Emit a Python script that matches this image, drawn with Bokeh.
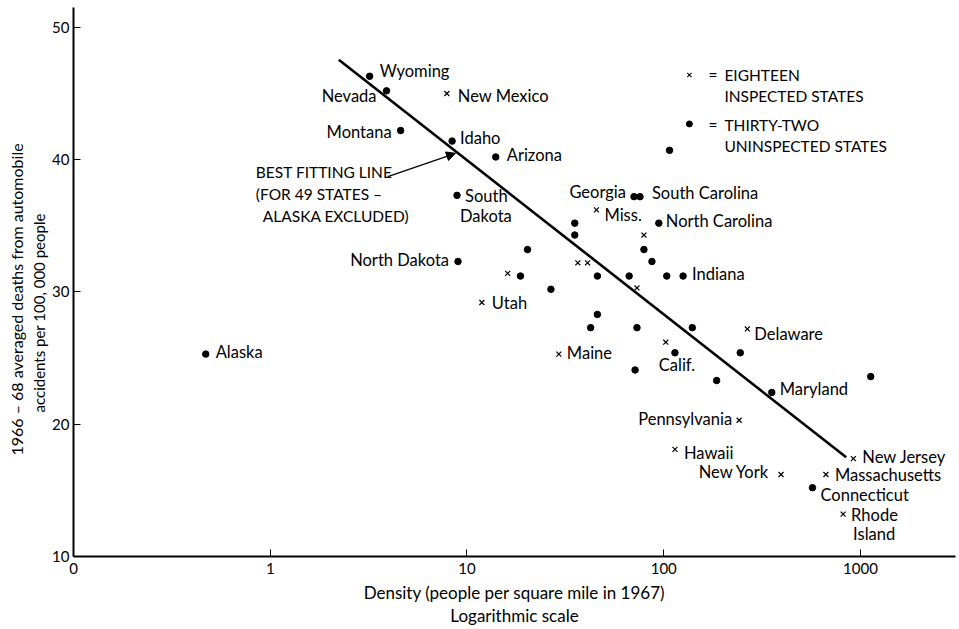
from bokeh.plotting import figure
from bokeh.models import (Range1d, FixedTicker, CustomJSTickFormatter, Label,
                          Arrow, NormalHead, Title)
from bokeh.embed import file_html
from bokeh.resources import INLINE

FONT = "Lato"
TXT = "16.5px"
CAPS = "15.5px"

# Thirty-two uninspected states (dots): density (people / sq mi, 1967), deaths per 100,000
dot_names = ["Wyoming", "Nevada", "Montana", "Idaho", "Arizona", "South Dakota", "",
             "Georgia", "South Carolina", "North Carolina", "", "", "", "", "",
             "North Dakota", "", "", "", "", "Indiana", "", "", "", "", "", "", "",
             "", "", "Maryland", "", "Connecticut", "Alaska"]
dot_density = [3.2, 3.9, 4.6, 8.4, 14.0, 8.9, 107,
               70.6, 75.7, 94.4, 35.3, 35.3, 20.3, 79.3, 87.1,
               9.0, 18.7, 46.0, 66.7, 103.6, 125.4, 26.7, 46.0, 42.5, 73.1, 139.7, 114.0, 244.9,
               71.5, 185.7, 354, 1127, 570, 0.47]
dot_deaths = [46.3, 45.2, 42.2, 41.4, 40.2, 37.3, 40.7,
              37.2, 37.2, 35.2, 35.2, 34.3, 33.2, 33.2, 32.3,
              32.3, 31.2, 31.2, 31.2, 31.2, 31.2, 30.2, 28.3, 27.3, 27.3, 27.3, 25.4, 25.4,
              24.1, 23.3, 22.4, 23.6, 15.2, 25.3]

# Eighteen inspected states (crosses)
x_names = ["New Mexico", "Miss.", "", "", "", "", "", "Utah", "Calif.", "Maine",
           "Delaware", "Pennsylvania", "Hawaii", "New York", "New Jersey",
           "Massachusetts", "Rhode Island"]
x_density = [7.9, 45.5, 79.3, 36.6, 41.0, 16.1, 73.1, 11.9, 102.4, 29.3,
             266, 241.6, 114, 394.7, 920, 667, 816]
x_deaths = [45.0, 36.2, 34.3, 32.2, 32.2, 31.4, 30.3, 29.2, 26.2, 25.3,
            27.2, 20.3, 18.1, 16.2, 17.4, 16.2, 13.2]

# Best fitting line (49 states, Alaska excluded)
fit_density = [2.23, 846]
fit_deaths = [47.55, 17.5]

x_ticks = [0.1, 1, 10, 100, 1000]
y_ticks = [10, 20, 30, 40, 50]

# label placement: name -> list of (text, dx, dy, align)
label_layout = {
    "Wyoming": [("Wyoming", 10, 5, "left")],
    "Nevada": [("Nevada", -10, -5, "right")],
    "New Mexico": [("New Mexico", 11, -3, "left")],
    "Montana": [("Montana", -9, -1, "right")],
    "Idaho": [("Idaho", 8, 3, "left")],
    "Arizona": [("Arizona", 11, 2, "left")],
    "South Dakota": [("South", 8, -1, "left"), ("Dakota", 3, -21, "left")],
    "North Dakota": [("North Dakota", -9, 1, "right")],
    "Utah": [("Utah", 10, 0, "left")],
    "Alaska": [("Alaska", 10, 2, "left")],
    "Maine": [("Maine", 8, 1, "left")],
    "Georgia": [("Georgia", -8, 5, "right")],
    "South Carolina": [("South Carolina", 12, 4, "left")],
    "Miss.": [("Miss.", 8, -5, "left")],
    "North Carolina": [("North Carolina", 7, 2, "left")],
    "Indiana": [("Indiana", 9, 2, "left")],
    "Calif.": [("Calif.", -7, -23, "left")],
    "Delaware": [("Delaware", 7, -5, "left")],
    "Maryland": [("Maryland", 8, 3, "left")],
    "Pennsylvania": [("Pennsylvania", -7, 1, "right")],
    "Hawaii": [("Hawaii", 9, -4, "left")],
    "New York": [("New York", -12, 2, "right")],
    "New Jersey": [("New Jersey", 9, 2, "left")],
    "Massachusetts": [("Massachusetts", 9, -1, "left")],
    "Connecticut": [("Connecticut", 8, -7, "left")],
    "Rhode Island": [("Rhode", 8, -1, "left"), ("Island", 10, -20, "left")],
}

p = figure(width=959, height=629, x_axis_type="log",
           x_range=Range1d(0.1, 3040), y_range=Range1d(10, 51.5),
           output_backend="svg", toolbar_location=None,
           min_border_left=73, min_border_right=4, min_border_top=7,
           min_border_bottom=73)
p.outline_line_color = None
p.grid.visible = False
p.background_fill_color = "white"
p.border_fill_color = "white"

xa = p.xaxis[0]
xa.ticker = FixedTicker(ticks=x_ticks)
xa.formatter = CustomJSTickFormatter(code="return tick < 0.5 ? '0' : tick.toFixed(0);")
ya = p.yaxis[0]
ya.ticker = FixedTicker(ticks=y_ticks)

for ax in (xa, ya):
    ax.axis_line_width = 2
    ax.axis_line_color = "black"
    ax.major_tick_in = 7
    ax.major_tick_out = 0
    ax.major_tick_line_width = 1
    ax.minor_tick_line_color = None
    ax.major_label_text_font = FONT
    ax.major_label_text_font_size = "15px"
    ax.major_label_text_color = "black"
    ax.axis_label_text_font = FONT
    ax.axis_label_text_font_style = "normal"
    ax.axis_label_text_color = "black"

xa.major_label_standoff = 6
ya.major_label_standoff = 4
xa.axis_label = "Density (people per square mile in 1967)\nLogarithmic scale"
xa.axis_label_text_font_size = "17px"
xa.axis_label_text_line_height = 1.1
xa.axis_label_standoff = 5

# vertical axis title: two rotated lines, the inner one added first;
# each starts `offset` px above the bottom of the frame
for line, size, offset, standoff in (
        ("accidents per 100, 000 people", "15px", 144, 4),
        ("1966 \u2013 68 averaged deaths from automobile", "16px", 101, 0)):
    p.add_layout(Title(text=line, align="left", offset=offset, standoff=standoff,
                       text_font=FONT, text_font_size=size,
                       text_line_height=1.0,
                       text_font_style="normal", text_color="black"), "left")

# best fitting line
p.line(fit_density, fit_deaths, line_color="black", line_width=2.6)

# points
p.scatter(dot_density, dot_deaths, marker="circle", size=6.5,
          fill_color="black", line_color="black")
p.scatter(x_density, x_deaths, marker="x", size=7,
          line_color="black", line_width=1.2)


def add_text(x, y, text, dx, dy, align="left", size=TXT):
    p.add_layout(Label(x=x, y=y, text=text, x_offset=dx, y_offset=dy,
                       text_align=align, text_baseline="middle",
                       text_font=FONT, text_font_size=size, text_color="black"))


for names, xs, ys in ((dot_names, dot_density, dot_deaths),
                      (x_names, x_density, x_deaths)):
    for n, xv, yv in zip(names, xs, ys):
        for text, dx, dy, align in label_layout.get(n, []):
            add_text(xv, yv, text, dx, dy, align)

# arrow pointing at the fitted line, with its caption
arrow_tail = (3.96, 38.71)
arrow_tip = (8.74, 40.48)
p.add_layout(Arrow(end=NormalHead(size=9, fill_color="black", line_color="black"),
                   x_start=arrow_tail[0], y_start=arrow_tail[1],
                   x_end=arrow_tip[0], y_end=arrow_tip[1],
                   line_color="black", line_width=1.3))
add_text(arrow_tail[0], arrow_tail[1], "BEST FITTING LINE", -132, 5, size=CAPS)
add_text(arrow_tail[0], arrow_tail[1], "(FOR 49 STATES \u2013", -132, -17, size=CAPS)
add_text(arrow_tail[0], arrow_tail[1], "ALASKA EXCLUDED)", -125, -39, size=CAPS)

# key
key_x = 135
key_y_cross = 46.4
key_y_dot = 42.7
p.scatter([key_x], [key_y_cross], marker="x", size=6, line_color="black", line_width=1.1)
p.scatter([key_x], [key_y_dot], marker="circle", size=6, fill_color="black",
          line_color="black")
add_text(key_x, key_y_cross, "=", 19, 0, size=CAPS)
add_text(key_x, key_y_cross, "EIGHTEEN", 35, 0, size=CAPS)
add_text(key_x, key_y_cross, "INSPECTED STATES", 35, -21, size=CAPS)
add_text(key_x, key_y_dot, "=", 19, -1, size=CAPS)
add_text(key_x, key_y_dot, "THIRTY-TWO", 35, -1, size=CAPS)
add_text(key_x, key_y_dot, "UNINSPECTED STATES", 35, -22, size=CAPS)

open("out.html", "w").write(file_html(p, INLINE))
